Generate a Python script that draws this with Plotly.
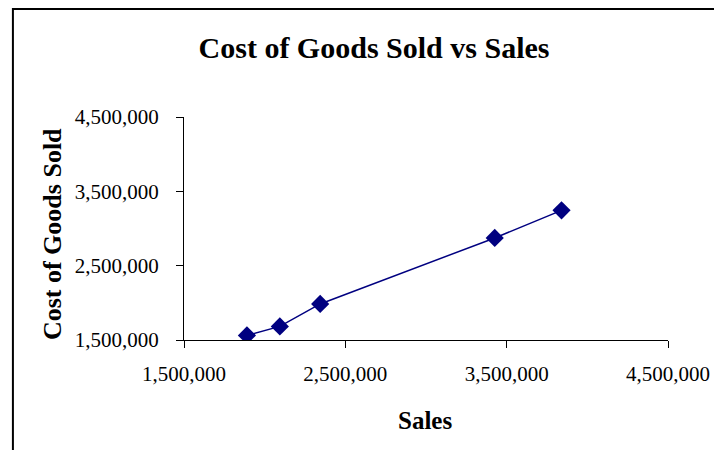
import plotly.graph_objects as go

sales = [1890000, 2094000, 2344000, 3426000, 3840000]
cogs = [1562000, 1683000, 1985000, 2873000, 3244000]
tick_vals = [1500000, 2500000, 3500000, 4500000]
tick_text = ["1,500,000", "2,500,000", "3,500,000", "4,500,000"]

OFF = 8  # page body margin
W, H = 722 - OFF, 450 - OFF
L, T = 184 - OFF, 117 - OFF
R = W - (672 - OFF)
B = H - (340 - OFF)
pw, ph = W - L - R, H - T - B

fig = go.Figure()
fig.add_trace(go.Scatter(
    x=sales, y=cogs, mode="lines+markers",
    line=dict(color="#000080", width=1.5),
    marker=dict(symbol="diamond", size=14, color="#000080"),
    showlegend=False,
))

serif = "Liberation Serif, Times New Roman, serif"
axis_common = dict(
    range=[1500000, 4500000], tickvals=tick_vals, ticktext=tick_text,
    showgrid=False, zeroline=False, showline=True, linecolor="black", linewidth=1,
    ticks="outside", ticklen=7, tickcolor="black", tickwidth=1,
    tickfont=dict(family=serif, size=21, color="black"),
)

fig.update_xaxes(**axis_common, ticklabelstandoff=8)
fig.update_yaxes(**axis_common, ticklabelstandoff=13)

def px_x(p):
    return (p - OFF - L) / pw

def px_y(p):
    return (H - B - (p - OFF)) / ph

fig.add_shape(type="rect", xref="paper", yref="paper",
              x0=px_x(11.5), x1=1.3, y0=-0.8, y1=px_y(9),
              line=dict(color="black", width=2), fillcolor="rgba(0,0,0,0)", layer="above")

fig.add_annotation(text="<b>Sales</b>", xref="paper", yref="paper",
                   x=px_x(427), y=px_y(420), showarrow=False,
                   xanchor="center", yanchor="middle",
                   font=dict(family=serif, size=25, color="black"))
fig.add_annotation(text="<b>Cost of Goods Sold</b>", xref="paper", yref="paper",
                   x=px_x(51), y=px_y(234), showarrow=False, textangle=-90,
                   xanchor="center", yanchor="middle",
                   font=dict(family=serif, size=26, color="black"))

fig.update_layout(
    width=W, height=H,
    margin=dict(l=L, r=R, t=T, b=B),
    paper_bgcolor="white", plot_bgcolor="white",
    title=dict(text="<b>Cost of Goods Sold vs Sales</b>", x=(374 - OFF) / W, xanchor="center",
               y=1 - (47 - OFF) / H, yanchor="middle", yref="container",
               font=dict(family=serif, size=30, color="black")),
)

fig.write_html("out.html")
